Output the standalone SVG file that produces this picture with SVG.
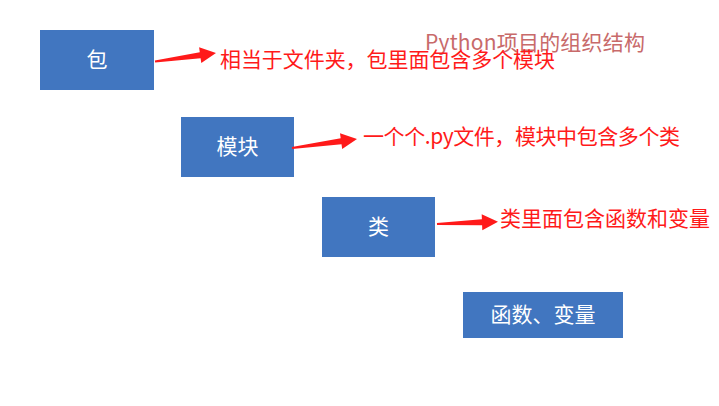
<svg xmlns="http://www.w3.org/2000/svg" width="719" height="406" viewBox="0 0 719 406">
<style>
.box{fill:#4176C0;}
.lbl{fill:#FFFFFF;font-family:"Noto Sans CJK SC","Noto Sans",sans-serif;font-size:21px;text-anchor:middle;}
.note{fill:#FF1A1A;font-family:"Noto Sans CJK SC","Noto Sans",sans-serif;font-size:21px;}
.title{fill:#C86A6A;font-family:"Noto Sans CJK SC","Noto Sans",sans-serif;font-size:21px;}
.arr{fill:#FF1A1A;}
</style>
<rect width="719" height="406" fill="#FFFFFF"/>
<text class="title" x="425" y="50" textLength="220">Python项目的组织结构</text>
<g id="node-bao">
<rect class="box" x="40" y="30" width="114" height="60"/>
<text class="lbl" x="97" y="67">包</text>
</g>
<g id="node-mokuai">
<rect class="box" x="181" y="117" width="113" height="60"/>
<text class="lbl" x="237.5" y="154">模块</text>
</g>
<g id="node-lei">
<rect class="box" x="322" y="197" width="113" height="60"/>
<text class="lbl" x="378.5" y="234">类</text>
</g>
<g id="node-hanshu">
<rect class="box" x="463" y="292" width="160" height="46"/>
<text class="lbl" x="543" y="322">函数、变量</text>
</g>
<g id="connectors">
<polygon class="arr" points="155.14,62.5 200.6,58.2 201.3,63.1 216,53 199.1,47.3 199.8,52.2 154.86,60.5"/>
<polygon class="arr" points="292.14,149 341.5,144.2 342.2,149.1 357,139 340.0,133.3 340.7,138.2 291.86,147"/>
<polygon class="arr" points="437.04,225 482.1,225.3 482.3,230.3 498,221.7 481.7,214.3 481.9,219.3 436.96,223"/>
</g>
<text class="note" x="220" y="67" textLength="335">相当于文件夹，包里面包含多个模块</text>
<text class="note" x="363" y="144" textLength="317">一个个.py文件，模块中包含多个类</text>
<text class="note" x="500" y="226" textLength="210">类里面包含函数和变量</text>
</svg>
